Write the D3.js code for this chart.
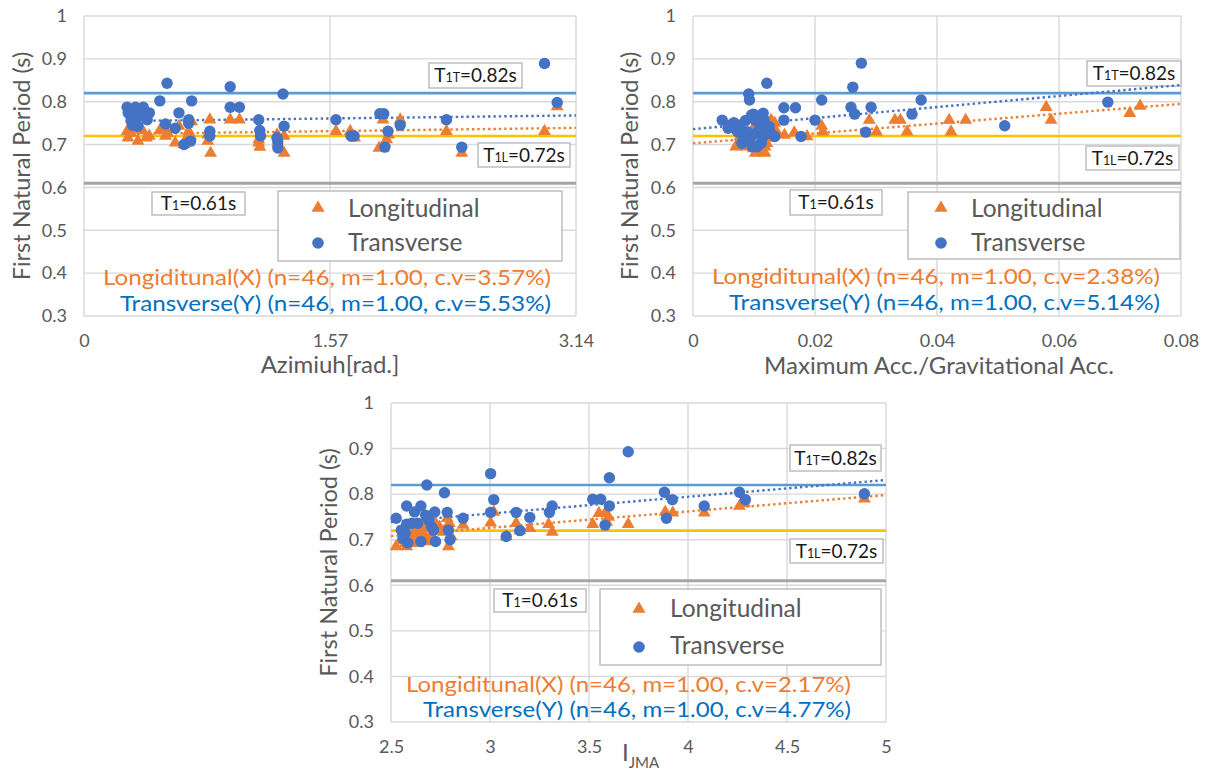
<!DOCTYPE html>
<html><head><meta charset="utf-8">
<script src="https://cdn.jsdelivr.net/npm/d3@7"></script>
<style>
body{margin:0;background:#fff;}
svg{display:block;}
text{font-family:Lato,'Liberation Sans',Arial,sans-serif;}
</style>
</head><body>
<svg id="chart" width="1210" height="771"></svg>
<script>
// ---------------- DATA ----------------
const yTickValues = [0.3, 0.4, 0.5, 0.6, 0.7, 0.8, 0.9, 1.0];
const yTickLabels = ["0.3", "0.4", "0.5", "0.6", "0.7", "0.8", "0.9", "1"];

const azTickValues = [0, 1.57, 3.14];
const azTickLabels = ["0", "1.57", "3.14"];
const accTickValues = [0, 0.02, 0.04, 0.06, 0.08];
const accTickLabels = ["0", "0.02", "0.04", "0.06", "0.08"];
const jmaTickValues = [2.5, 3, 3.5, 4, 4.5, 5];
const jmaTickLabels = ["2.5", "3", "3.5", "4", "4.5", "5"];

const seriesNames = ["Longitudinal", "Transverse"];
const refValues = [0.82, 0.72, 0.61];

// Panel 1: Azimuth
const azLongX = [0.275,0.28,0.31,0.344,0.373,0.417,0.484,0.52,0.582,0.606,0.638,0.668,0.68,0.687,0.79,0.803,0.808,0.933,0.992,1.115,1.122,1.232,1.237,1.277,1.277,1.608,1.699,1.728,1.883,1.908,1.932,1.944,2.018,2.313,2.411,2.939,3.02,0.30,0.35,0.398,0.496,0.533,0.656,0.79,1.115,1.92];
const azLongY = [0.731,0.716,0.735,0.708,0.733,0.72,0.733,0.72,0.704,0.743,0.70,0.731,0.72,0.754,0.708,0.758,0.68,0.758,0.758,0.704,0.694,0.723,0.704,0.72,0.68,0.731,0.731,0.716,0.692,0.758,0.712,0.723,0.758,0.731,0.68,0.731,0.789,0.727,0.739,0.716,0.74,0.727,0.716,0.723,0.712,0.704];
const azTransX = [0.275,0.282,0.329,0.378,0.417,0.30,0.31,0.344,0.403,0.484,0.53,0.52,0.582,0.606,0.638,0.668,0.668,0.68,0.687,0.803,0.803,0.933,0.933,0.992,1.115,1.122,1.127,1.237,1.237,1.27,1.277,1.608,1.704,1.724,1.888,1.913,1.92,1.94,2.018,2.313,2.411,2.939,3.02,0.354,0.305,1.232];
const azTransY = [0.787,0.774,0.787,0.787,0.774,0.756,0.745,0.743,0.758,0.802,0.843,0.748,0.738,0.774,0.70,0.758,0.750,0.708,0.802,0.731,0.72,0.835,0.787,0.787,0.758,0.733,0.72,0.706,0.692,0.818,0.743,0.758,0.72,0.72,0.772,0.772,0.694,0.731,0.745,0.758,0.694,0.889,0.798,0.766,0.77,0.716];
const azLongTrend = [[0.27, 0.725], [3.14, 0.739]];
const azTransTrend = [[0.27, 0.755], [3.14, 0.768]];
const azStats = ["Longiditunal(X) (n=46, m=1.00, c.v=3.57%)", "Transverse(Y) (n=46, m=1.00, c.v=5.53%)"];

// Panel 2: Maximum Acc. / Gravitational Acc.
const accLongX = [0.007,0.0086,0.0102,0.0118,0.0121,0.0128,0.0131,0.015,0.0166,0.0187,0.0211,0.0213,0.0289,0.0301,0.0331,0.034,0.0351,0.042,0.0423,0.0447,0.0579,0.0587,0.0716,0.0733,0.008,0.0093,0.0099,0.0105,0.0109,0.0112,0.0115,0.0121,0.0125,0.0096,0.0089,0.0102,0.0131,0.0134,0.0077,0.0137,0.0099,0.0115,0.0083,0.0109,0.0128,0.0118];
const accLongY = [0.695,0.695,0.68,0.68,0.703,0.757,0.738,0.722,0.728,0.719,0.743,0.73,0.757,0.73,0.757,0.757,0.73,0.757,0.73,0.757,0.787,0.757,0.773,0.79,0.707,0.722,0.711,0.734,0.691,0.719,0.742,0.722,0.73,0.703,0.711,0.746,0.719,0.75,0.719,0.73,0.691,0.684,0.73,0.703,0.715,0.695];
const accTransX = [0.00479,0.00575,0.0067,0.0061,0.0073,0.008,0.00913,0.00926,0.0086,0.0096,0.0099,0.00926,0.0097,0.0105,0.0101,0.0115,0.0116,0.0118,0.0121,0.0115,0.0134,0.0149,0.0149,0.0168,0.0177,0.020,0.0211,0.0259,0.0262,0.0265,0.0276,0.0283,0.0292,0.0359,0.0374,0.0511,0.068,0.0077,0.0102,0.0109,0.0118,0.0089,0.0083,0.0112,0.0128,0.0125];
const accTransY = [0.757,0.738,0.751,0.746,0.73,0.703,0.818,0.804,0.756,0.769,0.771,0.711,0.695,0.695,0.726,0.773,0.759,0.748,0.843,0.719,0.719,0.786,0.757,0.786,0.719,0.757,0.804,0.787,0.834,0.771,0.89,0.729,0.787,0.771,0.804,0.744,0.799,0.746,0.757,0.746,0.734,0.73,0.719,0.703,0.726,0.742];
const accLongTrend = [[0, 0.703], [0.08, 0.795]];
const accTransTrend = [[0, 0.736], [0.08, 0.839]];
const accStats = ["Longiditunal(X) (n=46, m=1.00, c.v=2.38%)", "Transverse(Y) (n=46, m=1.00, c.v=5.14%)"];

// Panel 3: I_JMA
const jmaLongX = [2.526,2.579,2.56,2.605,2.625,2.645,2.655,2.665,2.695,2.725,2.725,2.784,2.79,2.804,2.864,3.003,3.019,3.082,3.132,3.151,3.201,3.296,3.314,3.519,3.581,3.589,3.599,3.698,3.885,3.923,4.082,4.26,4.891,2.552,2.572,2.635,2.675,2.705,2.745,2.765,2.794,2.615,2.685,3.55,4.285,2.635];
const jmaLongY = [0.685,0.685,0.717,0.707,0.699,0.728,0.717,0.736,0.696,0.721,0.736,0.747,0.685,0.707,0.732,0.737,0.761,0.707,0.736,0.72,0.725,0.734,0.717,0.734,0.758,0.739,0.75,0.734,0.761,0.759,0.759,0.774,0.79,0.699,0.692,0.714,0.707,0.71,0.728,0.717,0.736,0.721,0.725,0.758,0.78,0.692];
const jmaTransX = [2.526,2.552,2.56,2.579,2.579,2.585,2.605,2.619,2.651,2.651,2.675,2.681,2.691,2.705,2.721,2.725,2.715,2.77,2.784,2.79,2.798,2.864,3.003,3.003,3.019,3.082,3.132,3.151,3.201,3.30,3.314,3.519,3.559,3.581,3.603,3.603,3.698,3.881,3.891,3.921,4.082,4.26,4.29,4.891,2.572,2.635];
const jmaTransY = [0.747,0.721,0.703,0.774,0.734,0.693,0.736,0.761,0.774,0.696,0.754,0.82,0.743,0.728,0.761,0.696,0.721,0.803,0.76,0.721,0.70,0.747,0.845,0.76,0.788,0.707,0.76,0.72,0.749,0.76,0.774,0.789,0.789,0.732,0.836,0.774,0.893,0.804,0.747,0.788,0.774,0.804,0.788,0.801,0.714,0.736];
const jmaLongTrend = [[2.5, 0.708], [5, 0.798]];
const jmaTransTrend = [[2.5, 0.739], [5, 0.831]];
const jmaStats = ["Longiditunal(X) (n=46, m=1.00, c.v=2.17%)", "Transverse(Y) (n=46, m=1.00, c.v=4.77%)"];

const yTitle = "First Natural Period (s)";

// ---------------- LAYOUT / STYLE ----------------
const C = {
  orange: "#ED7D31", blue: "#4472C4", statBlue: "#0070C0",
  grid: "#D9D9D9", text: "#595959",
  ref: ["#5B9BD5", "#FFC000", "#A5A5A5"]
};

const panels = [
  { left: 84, right: 576, top: 16, bottom: 316, xDomain: [0, 3.14],
    ticks: azTickValues, tickLabels: azTickLabels,
    lx: azLongX, ly: azLongY, tx: azTransX, ty: azTransY,
    lTrend: azLongTrend, tTrend: azTransTrend, stats: azStats,
    xTitle: "Azimiuh[rad.]", xTitleX: 330, xTitleY: 373, yTitleX: 22,
    boxT: [429, 63, 93, 25], boxL: [478, 143, 92, 24], box1: [152, 192, 93, 23],
    legend: [278, 191, 284, 70], legX: 318, legTextX: 348, legY: [208, 243], legBase: [217, 251],
    statX: 551, statY: [285, 311], statW: [448, 431] },
  { left: 693, right: 1181, top: 16, bottom: 316, xDomain: [0, 0.08],
    ticks: accTickValues, tickLabels: accTickLabels,
    lx: accLongX, ly: accLongY, tx: accTransX, ty: accTransY,
    lTrend: accLongTrend, tTrend: accTransTrend, stats: accStats,
    xTitle: "Maximum Acc./Gravitational Acc.", xTitleX: 939, xTitleY: 374, yTitleX: 630,
    boxT: [1087, 61, 94, 25], boxL: [1086, 146, 93, 24], box1: [790, 190, 92, 25],
    legend: [908, 192, 272, 67], legX: 941, legTextX: 971, legY: [208, 243], legBase: [217, 251],
    statX: 1160, statY: [284, 310], statW: [448, 431] },
  { left: 391, right: 886, top: 403, bottom: 722, xDomain: [2.5, 5],
    ticks: jmaTickValues, tickLabels: jmaTickLabels,
    lx: jmaLongX, ly: jmaLongY, tx: jmaTransX, ty: jmaTransY,
    lTrend: jmaLongTrend, tTrend: jmaTransTrend, stats: jmaStats,
    xTitle: null, xTitleX: 622, xTitleY: 761, yTitleX: 329,
    boxT: [790, 445, 91, 26], boxL: [790, 539, 93, 24], box1: [494, 589, 92, 23],
    legend: [600, 589, 281, 76], legX: 639, legTextX: 670, legY: [609, 647], legBase: [617, 654],
    statX: 851, statY: [692, 717], statW: [445, 428] }
];

const svg = d3.select("#chart");
svg.append("rect").attr("width", 1210).attr("height", 771).attr("fill", "#fff");

function refBox(g, box, main, sub, rest) {
  const [bx, by, bw, bh] = box;
  g.append("rect").attr("x", bx).attr("y", by).attr("width", bw).attr("height", bh)
    .attr("fill", "#fff").attr("stroke", "#BFBFBF").attr("stroke-width", 1.5);
  const t = g.append("text").attr("x", bx + bw / 2).attr("y", by + bh / 2 + 6.8)
    .attr("text-anchor", "middle").attr("font-size", 19).attr("fill", "#1a1a1a");
  t.append("tspan").text(main);
  t.append("tspan").attr("font-size", 12.5).text(sub);
  t.append("tspan").text(rest);
}

panels.forEach(p => {
  const g = svg.append("g");
  const x = d3.scaleLinear().domain(p.xDomain).range([p.left, p.right]);
  const y = d3.scaleLinear().domain([0.3, 1]).range([p.bottom, p.top]);

  // gridlines
  g.append("g").selectAll("line").data(yTickValues).join("line")
    .attr("x1", p.left).attr("x2", p.right)
    .attr("y1", d => y(d)).attr("y2", d => y(d))
    .attr("stroke", C.grid).attr("stroke-width", 1.4);
  g.append("g").selectAll("line").data(p.ticks).join("line")
    .attr("x1", d => x(d)).attr("x2", d => x(d))
    .attr("y1", p.top).attr("y2", p.bottom)
    .attr("stroke", C.grid).attr("stroke-width", 1.4);

  // axes (labels only)
  const ya = g.append("g").attr("transform", `translate(${p.left},0)`)
    .call(d3.axisLeft(y).tickValues(yTickValues).tickFormat((d, i) => yTickLabels[i]).tickSize(0).tickPadding(17));
  ya.select(".domain").remove();
  ya.selectAll("text").attr("font-size", 18).attr("fill", C.text).style("font-family", "Lato,'Liberation Sans',Arial,sans-serif");
  const xa = g.append("g").attr("transform", `translate(0,${p.bottom})`)
    .call(d3.axisBottom(x).tickValues(p.ticks).tickFormat((d, i) => p.tickLabels[i]).tickSize(0).tickPadding(18));
  xa.select(".domain").remove();
  xa.selectAll("text").attr("font-size", 18).attr("fill", C.text).style("font-family", "Lato,'Liberation Sans',Arial,sans-serif");

  // reference lines
  g.append("g").selectAll("line").data(refValues).join("line")
    .attr("x1", p.left).attr("x2", p.right)
    .attr("y1", d => y(d)).attr("y2", d => y(d))
    .attr("stroke", (d, i) => C.ref[i]).attr("stroke-width", (d, i) => i === 2 ? 3 : 2.6);

  // boxes
  refBox(g, p.boxT, "T", "1T", "=0.82s");
  refBox(g, p.boxL, "T", "1L", "=0.72s");
  refBox(g, p.box1, "T", "1", "=0.61s");

  // legend
  const [lx0, ly0, lw, lh] = p.legend;
  g.append("rect").attr("x", lx0).attr("y", ly0).attr("width", lw).attr("height", lh)
    .attr("fill", "#fff").attr("stroke", "#BFBFBF").attr("stroke-width", 1.5);
  g.append("path").attr("d", d3.symbol(d3.symbolTriangle, 75)())
    .attr("transform", `translate(${p.legX},${p.legY[0]})`).attr("fill", C.orange);
  g.append("circle").attr("cx", p.legX).attr("cy", p.legY[1]).attr("r", 5.8).attr("fill", C.blue);
  seriesNames.forEach((s, i) => {
    g.append("text").attr("x", p.legTextX).attr("y", p.legBase[i]).attr("font-size", 24.5)
      .attr("fill", C.text).text(s);
  });

  // stats text
  p.stats.forEach((s, i) => {
    g.append("text").attr("x", p.statX).attr("y", p.statY[i]).attr("text-anchor", "end")
      .attr("font-size", 21.5).attr("textLength", p.statW[i]).attr("lengthAdjust", "spacingAndGlyphs")
      .attr("fill", i === 0 ? C.orange : C.statBlue).text(s);
  });

  // trendlines
  const line = d3.line().x(d => x(d[0])).y(d => y(d[1]));
  [[p.lTrend, C.orange], [p.tTrend, C.blue]].forEach(([tr, col]) => {
    g.append("path").attr("d", line(tr)).attr("fill", "none").attr("stroke", col)
      .attr("stroke-width", 2.4).attr("stroke-dasharray", "2.4,3");
  });

  // markers
  g.append("g").selectAll("path").data(d3.zip(p.lx, p.ly)).join("path")
    .attr("d", d3.symbol(d3.symbolTriangle, 72)())
    .attr("transform", d => `translate(${x(d[0])},${y(d[1])})`)
    .attr("fill", C.orange);
  g.append("g").selectAll("circle").data(d3.zip(p.tx, p.ty)).join("circle")
    .attr("cx", d => x(d[0])).attr("cy", d => y(d[1])).attr("r", 5.7)
    .attr("fill", C.blue);

  // axis titles
  const cy = (p.top + p.bottom) / 2;
  g.append("text").attr("transform", `translate(${p.yTitleX},${cy}) rotate(-90)`)
    .attr("text-anchor", "middle").attr("dy", "0.35em").attr("font-size", 23.5)
    .attr("fill", C.text).text(yTitle);
  if (p.xTitle) {
    g.append("text").attr("x", p.xTitleX).attr("y", p.xTitleY).attr("text-anchor", "middle")
      .attr("font-size", 24).attr("fill", C.text).text(p.xTitle);
  } else {
    const t = g.append("text").attr("x", p.xTitleX).attr("y", p.xTitleY)
      .attr("font-size", 24).attr("fill", C.text);
    t.append("tspan").text("I");
    t.append("tspan").attr("font-size", 15).attr("dy", 7).text("JMA");
  }
});
</script>
</body></html>
